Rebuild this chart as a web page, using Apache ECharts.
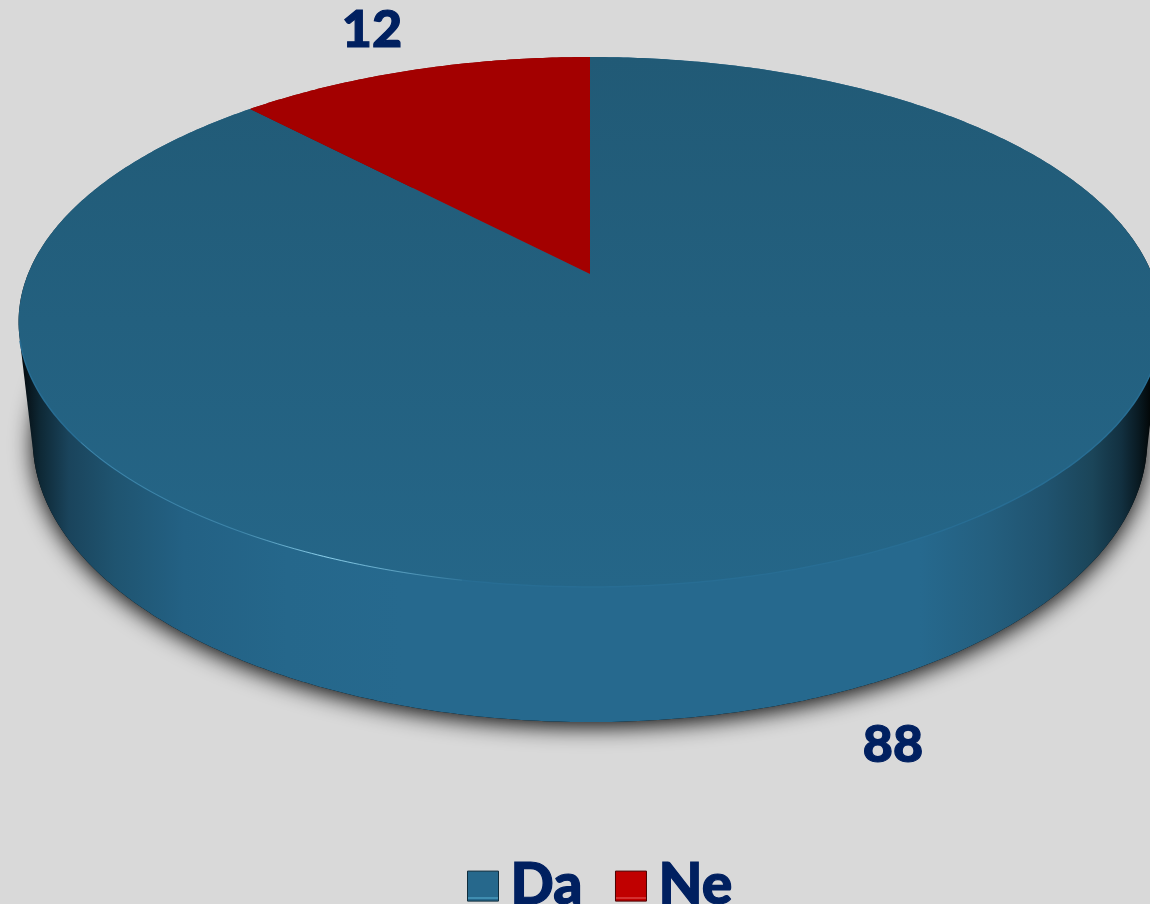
<!DOCTYPE html>
<html>
<head>
<meta charset="utf-8">
<style>html,body{margin:0;padding:0;background:#d9d9d9}#c{width:1150px;height:904px}</style>
<script src="https://cdn.jsdelivr.net/npm/echarts@6/dist/echarts.min.js"></script>
</head>
<body>
<div id="c"></div>
<script>
const categories = ['Da', 'Ne'];
const values = [88, 12];

const FONT = 'Lato, "Noto Sans", sans-serif';
const INK = '#002060';
const total = values.reduce((a, b) => a + b, 0);

// Perspective disc: point on unit circle (clockwise angle from the back) -> screen
const topDisc = { cx: 590, y0: 274, a: 256.3, b: 562, k: 0.181 };
const baseDisc = { cx: 590, y0: 389, a: 272.8, b: 548, k: 0.181 };
function project(d, th) {
  const u = Math.sin(th), v = -Math.cos(th), w = 1 - d.k * v;
  return [d.cx + d.b * u / w, d.y0 + d.a * v / w];
}
function arc(d, t0, t1) {
  const n = Math.max(2, Math.ceil(Math.abs(t1 - t0) / 0.01)), pts = [];
  for (let i = 0; i <= n; i++) pts.push(project(d, t0 + (t1 - t0) * i / n));
  return pts;
}
function hull(points) {
  const p = points.slice().sort((a, b) => a[0] - b[0] || a[1] - b[1]);
  const cross = (o, a, b) => (a[0] - o[0]) * (b[1] - o[1]) - (a[1] - o[1]) * (b[0] - o[0]);
  const lo = [], up = [];
  for (const q of p) { while (lo.length > 1 && cross(lo[lo.length - 2], lo[lo.length - 1], q) <= 0) lo.pop(); lo.push(q); }
  for (const q of p.reverse()) { while (up.length > 1 && cross(up[up.length - 2], up[up.length - 1], q) <= 0) up.pop(); up.push(q); }
  return lo.slice(0, -1).concat(up.slice(0, -1));
}
const wallGrad = { type: 'linear', global: true, x: 0, y: 0, x2: 1150, y2: 0, colorStops: [
  { offset: 0.02, color: '#050d12' }, { offset: 0.035, color: '#0e2835' }, { offset: 0.06, color: '#1a445c' },
  { offset: 0.1, color: '#1f5470' }, { offset: 0.16, color: '#236184' }, { offset: 0.25, color: '#25678b' },
  { offset: 0.35, color: '#26698e' }, { offset: 0.8, color: '#26698e' }, { offset: 0.86, color: '#245f7f' },
  { offset: 0.91, color: '#20536f' }, { offset: 0.95, color: '#1b4559' }, { offset: 0.975, color: '#123040' },
  { offset: 0.99, color: '#091a22' }, { offset: 1, color: '#030809' } ] };
const topGrad = { type: 'linear', global: true, x: 0, y: 57, x2: 0, y2: 587, colorStops: [
  { offset: 0, color: '#215a76' }, { offset: 1, color: '#256688' } ] };
const sliceColors = [topGrad, '#a30000'];
const labelPos = [[893, 745], [372, 30]];

function renderSlice(params, api) {
  const idx = params.seriesIndex;
  const before = values.slice(0, idx).reduce((a, b) => a + b, 0);
  const t0 = before / total * Math.PI * 2;
  const t1 = (before + api.value(0)) / total * Math.PI * 2;
  const topArc = arc(topDisc, t0, t1);
  const baseArc = arc(baseDisc, t0, t1);
  const centerB = [baseDisc.cx, baseDisc.y0];
  const centerT = [topDisc.cx, topDisc.y0];
  const children = [
    { type: 'polygon', z2: 1, shape: { points: [centerB].concat(baseArc) },
      style: { fill: '#000', shadowBlur: 22, shadowColor: 'rgba(0,0,0,0.95)', shadowOffsetY: 5 } },
    { type: 'polygon', z2: 2, shape: { points: hull(topArc.concat(baseArc)) },
      style: { fill: idx === 0 ? wallGrad : '#800000' } },
    { type: 'polygon', z2: 3, shape: { points: [centerT].concat(topArc) },
      style: { fill: sliceColors[idx] } }
  ];
  if (idx === 0) {
    children.push({ type: 'polyline', z2: 4, shape: { points: arc(topDisc, Math.PI * 0.6, Math.PI * 1.42) },
      style: { fill: null, stroke: '#286d93', lineWidth: 1.5 } });
    children.push({ type: 'polyline', z2: 4, shape: { points: arc(topDisc, Math.PI * 1.06, Math.PI * 1.3) },
      style: { fill: null, lineWidth: 1, stroke: { type: 'linear', global: true, x: 240, y: 0, x2: 480, y2: 0, colorStops: [
        { offset: 0, color: 'rgba(130,200,225,0.25)' }, { offset: 0.35, color: 'rgba(150,215,240,0.95)' },
        { offset: 1, color: 'rgba(130,200,225,0)' } ] } } });
  }
  children.push({ type: 'text', z2: 5, x: labelPos[idx][0], y: labelPos[idx][1],
    style: { text: String(api.value(0)), fill: INK, stroke: INK, lineWidth: 1.2, font: '900 52px ' + FONT, align: 'center', verticalAlign: 'middle' } });
  return { type: 'group', children };
}

function swatch(base, strip) {
  return { type: 'linear', x: 0, y: 0, x2: 0, y2: 1, colorStops: [
    { offset: 0, color: base }, { offset: 0.84, color: base }, { offset: 0.84, color: strip }, { offset: 0.93, color: strip },
    { offset: 0.93, color: base }, { offset: 1, color: base } ] };
}

const chart = echarts.init(document.getElementById('c'), null, { renderer: 'canvas' });
chart.setOption({
  animation: false,
  backgroundColor: '#d9d9d9',
  legend: {
    left: 467, top: 857, padding: 0, itemWidth: 31, itemHeight: 30, itemGap: 32, selectedMode: false, icon: 'rect',
    textStyle: { color: INK, fontFamily: FONT, fontWeight: 900, fontSize: 57, padding: [0, 0, 0, 7],
      textBorderColor: INK, textBorderWidth: 1.2 },
    data: [
      { name: categories[0], itemStyle: { color: swatch('#26688c', '#3f8db0'), borderColor: '#0f2c3c', borderWidth: 1 } },
      { name: categories[1], itemStyle: { color: swatch('#c00000', '#d43030'), borderColor: '#4a0000', borderWidth: 1 } }
    ]
  },
  series: categories.map((name, i) => ({
    type: 'custom', name, coordinateSystem: 'none', silent: true, clip: false,
    renderItem: renderSlice, data: [[values[i]]]
  }))
});
</script>
</body>
</html>
